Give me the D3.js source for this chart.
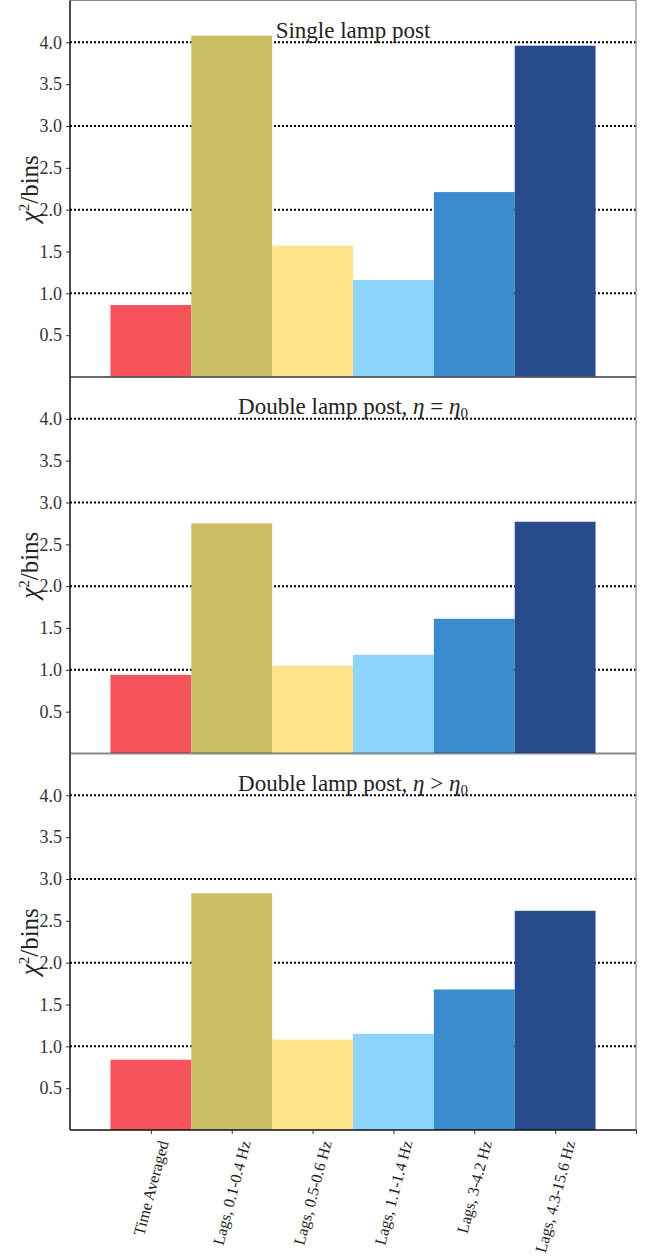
<!DOCTYPE html>
<html>
<head>
<meta charset="utf-8">
<script src="https://cdn.jsdelivr.net/npm/d3@7"></script>
<style>
  body { margin: 0; background: #fff; }
  svg { display: block; font-family: "Liberation Serif", "DejaVu Serif", serif; }
  .tick text { font-family: "Liberation Serif", serif; }
</style>
</head>
<body>
<div id="chart"></div>
<script>
// data
var categories = ["Time Averaged", "Lags, 0.1-0.4 Hz", "Lags, 0.5-0.6 Hz",
                  "Lags, 1.1-1.4 Hz", "Lags, 3-4.2 Hz", "Lags, 4.3-15.6 Hz"];
var singleLamp    = [0.86, 4.08, 1.57, 1.16, 2.21, 3.96];
var doubleEqual   = [0.94, 2.75, 1.05, 1.18, 1.61, 2.77];
var doubleGreater = [0.84, 2.83, 1.08, 1.15, 1.68, 2.62];
var barColors = ["#f7535d", "#ccbe64", "#fde48b", "#8dd5fd", "#3a8bcd", "#284c8b"];
var yTicks = [0.5, 1.0, 1.5, 2.0, 2.5, 3.0, 3.5, 4.0];
var gridValues = [1, 2, 3, 4];

var panels = [
    {values: singleLamp, title: [{t: "Single lamp post"}]},
    {values: doubleEqual, title: [{t: "Double lamp post, "}, {t: "η", it: true}, {t: " = "}, {t: "η", it: true}, {t: "0", sub: true}]},
    {values: doubleGreater, title: [{t: "Double lamp post, "}, {t: "η", it: true}, {t: " > "}, {t: "η", it: true}, {t: "0", sub: true}]}
];

var W = 649, H = 1260;
var left = 70, right = 636, top0 = 0.5;
var panelH = 376.5;

var svg = d3.select("#chart").append("svg")
    .attr("width", W)
    .attr("height", H);

var x = d3.scaleLinear().domain([0, 7]).range([left, right]);

panels.forEach(function(p, k){

    var y0 = top0 + k * panelH;
    var y = d3.scaleLinear().domain([0, 4.5]).range([y0 + panelH, y0]);

    var g = svg.append("g");

    // grid
    g.selectAll("line.grid")
        .data(gridValues)
        .enter().append("line")
        .attr("class", "grid")
        .attr("x1", left).attr("x2", right)
        .attr("y1", function(d){ return y(d); })
        .attr("y2", function(d){ return y(d); })
        .attr("stroke", "#000")
        .attr("stroke-width", 2)
        .attr("stroke-dasharray", "2,2");

    // bars
    g.selectAll("rect.bar")
        .data(p.values)
        .enter().append("rect")
        .attr("class", "bar")
        .attr("x", function(d, i){ return x(i + 0.5); })
        .attr("width", function(d, i){ return x(i + 1.5) - x(i + 0.5); })
        .attr("y", function(d){ return y(d); })
        .attr("height", function(d){ return y(0) - y(d); })
        .attr("fill", function(d, i){ return barColors[i]; });

    // title
    var t = g.append("text")
        .attr("x", (left + right) / 2)
        .attr("y", y0 + 37)
        .attr("text-anchor", "middle")
        .style("font-size", "23px")
        .style("fill", "#222");
    p.title.forEach(function(s){
        var ts = t.append("tspan").text(s.t);
        if (s.it) ts.style("font-style", "italic");
        if (s.sub) ts.attr("dy", 4).style("font-size", "15px");
    });

    // y axis
    var yAxis = d3.axisLeft(y)
        .tickValues(yTicks)
        .tickFormat(d3.format(".1f"))
        .tickSize(4)
        .tickPadding(4);
    var ya = g.append("g")
        .attr("transform", "translate(" + left + ",0)")
        .call(yAxis)
        .attr("font-family", null)
        .attr("font-size", null);
    ya.select(".domain").remove();
    ya.selectAll("text").style("font-size", "18px").style("fill", "#333");
    ya.selectAll("line").attr("stroke", "#333");

    // spines
    g.append("line").attr("x1", left).attr("x2", right).attr("y1", y0).attr("y2", y0)
        .attr("stroke", "#888").attr("stroke-width", 1.2);
    g.append("line").attr("x1", right).attr("x2", right).attr("y1", y0).attr("y2", y0 + panelH)
        .attr("stroke", "#888").attr("stroke-width", 1.2);
    g.append("line").attr("x1", left).attr("x2", left).attr("y1", y0).attr("y2", y0 + panelH)
        .attr("stroke", "#111").attr("stroke-width", 1.5);
    g.append("line").attr("x1", left).attr("x2", right).attr("y1", y0 + panelH).attr("y2", y0 + panelH)
        .attr("stroke", "#111").attr("stroke-width", 1.5);

    // y label
    var yl = g.append("text")
        .attr("transform", "translate(38," + (y0 + panelH / 2) + ") rotate(-90)")
        .attr("text-anchor", "middle")
        .style("font-size", "25px")
        .style("fill", "#222");
    yl.append("tspan").text("χ").style("font-style", "italic");
    yl.append("tspan").text("2").attr("dy", -9).style("font-size", "15px");
    yl.append("tspan").text("/bins").attr("dy", 9);

    if (k === panels.length - 1) {
        var base = y0 + panelH;
        var xAxis = d3.axisBottom(x)
            .tickValues([1, 2, 3, 4, 5, 6, 7])
            .tickFormat("")
            .tickSize(4);
        var xa = g.append("g")
            .attr("transform", "translate(0," + base + ")")
            .call(xAxis);
        xa.select(".domain").remove();
        xa.selectAll("line").attr("stroke", "#333");

        g.selectAll("text.xlab")
            .data(categories)
            .enter().append("text")
            .attr("class", "xlab")
            .style("font-size", "16px")
            .style("fill", "#222")
            .attr("text-anchor", "end")
            .attr("dy", "0.35em")
            .text(function(d){ return d; })
            .each(function(d, i){
                var L = this.getComputedTextLength();
                var ax = x(i + 1) + 0.129 * L;
                var ay = base + 11;
                d3.select(this).attr("transform", "translate(" + ax + "," + ay + ") rotate(-75)");
            });
    }
});
</script>
</body>
</html>
